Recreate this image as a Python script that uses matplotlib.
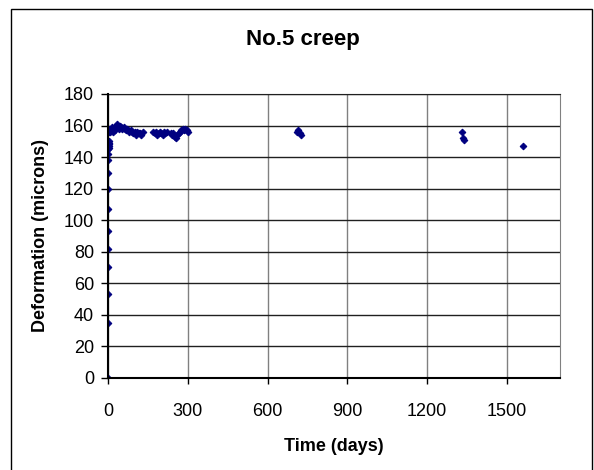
import matplotlib
matplotlib.use('Agg')
import matplotlib.pyplot as plt
from matplotlib.patches import Rectangle

# loading phase (all at t ~ 0) then creep readings
days = [0, 0, 0, 0, 0, 0, 0, 0, 0, 0, 0, 0.5, 0.5, 1, 1, 1.5, 2, 2, 3, 3,
        2, 4, 6, 8, 10, 12, 15, 18, 20, 22, 25, 28, 30, 33, 35, 38, 40, 43,
        46, 50, 54, 58, 62, 66, 70, 75, 80, 85, 90, 95, 100, 105, 110, 115,
        120, 125, 130,
        170, 175, 180, 185, 190, 195, 200, 205, 210, 215, 220,
        235, 240, 245, 250, 255, 260, 265, 270, 275, 280, 285, 290, 295, 300,
        710, 715, 720, 725,
        1330, 1335, 1338,
        1560]
deform = [0, 35, 53, 70, 82, 93, 107, 120, 130, 138, 142, 145, 146, 147, 148,
          149, 150, 146, 148, 147,
          156, 158, 157, 156, 158, 157, 159, 157, 156, 158, 157, 159, 160, 159,
          161, 160, 158, 159, 160, 159, 158, 159, 158, 157, 158, 157, 156, 157,
          156, 155, 156, 154, 156, 155, 155, 154, 156,
          156, 155, 156, 154, 155, 156, 155, 154, 156, 155, 156,
          155, 154, 155, 153, 152, 154, 155, 156, 157, 158, 157, 158, 157, 156,
          156, 157, 155, 154,
          156, 152, 151,
          147]

plt.rcParams['font.family'] = ['Liberation Sans', 'DejaVu Sans']

fig = plt.figure(figsize=(5.94, 4.70), dpi=100)
ax = fig.add_axes([0.182, 0.196, 0.761, 0.604])

ax.plot(days, deform, linestyle='none', marker='D', markersize=3.4,
        color='#000080', markeredgewidth=0.7, zorder=3)

ax.set_xlim(0, 1700)
ax.set_ylim(0, 180)
ax.set_xticks([0, 300, 600, 900, 1200, 1500])
ax.set_yticks(range(0, 181, 20))

ax.grid(True, axis='y', color='#202020', linewidth=1)
ax.grid(True, axis='x', color='#808080', linewidth=1)
ax.set_axisbelow(True)

for s in ['left', 'bottom']:
    ax.spines[s].set_color('black')
    ax.spines[s].set_linewidth(1.5)
    ax.spines[s].set_zorder(4)
ax.spines['top'].set_color('#202020')
ax.spines['right'].set_color('#808080')

ax.tick_params(axis='y', direction='out', length=5, width=1, pad=5, labelsize=13)
ax.tick_params(axis='x', direction='out', length=4, width=1, pad=14, labelsize=13)

# chart title is centred on the whole chart, not the plot area
fig.text(303 / 594, 1 - 39 / 470, 'No.5 creep', fontsize=16, fontweight='bold',
         ha='center', va='center')
ax.set_xlabel('Time (days)', fontsize=13, fontweight='bold', labelpad=13)
ax.set_ylabel('Deformation (microns)', fontsize=13, fontweight='bold', labelpad=11)

# outer chart frame
fig.patches.append(Rectangle((11 / 594, -0.05), 581 / 594, 1.05 - 9 / 470,
                             transform=fig.transFigure, fill=False,
                             edgecolor='black', linewidth=1))

plt.savefig('out.png', dpi=100)
